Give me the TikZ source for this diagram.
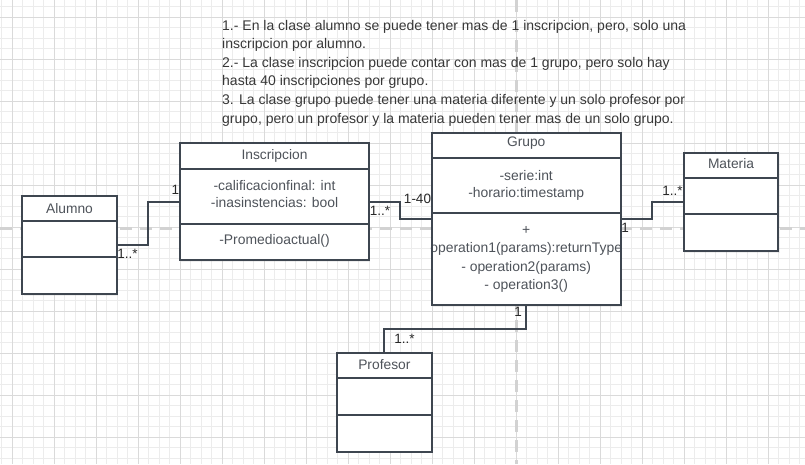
\documentclass[tikz,border=0pt]{standalone}
\usepackage{fontspec}
\setmainfont{Liberation Sans}
\usetikzlibrary{calc,shadows}
\definecolor{minorgrid}{RGB}{236,236,236}
\definecolor{majorgrid}{RGB}{218,218,218}
\definecolor{guide}{RGB}{210,210,210}
\definecolor{border}{RGB}{62,70,80}
\definecolor{boxtext}{RGB}{78,83,90}
\definecolor{notetext}{RGB}{55,55,55}
\definecolor{labeltext}{RGB}{40,40,40}
\tikzset{
  minorline/.style={draw=minorgrid, line width=1pt},
  majorline/.style={draw=majorgrid, line width=1pt},
  guideline/.style={draw=guide, line width=3pt, dash pattern=on 12pt off 8pt},
  classbox/.style={rectangle, fill=white, draw=none, inner sep=0pt, outer sep=0pt,
    drop shadow={opacity=0.12, shadow xshift=1.2pt, shadow yshift=-1.5pt}},
  boxborder/.style={draw=border, line width=2pt},
  divider/.style={draw=border, line width=2pt},
  boxtitle/.style={text=boxtext, inner sep=0pt, font=\fontsize{13.8}{16}\selectfont},
  boxitem/.style={text=boxtext, inner sep=0pt, font=\fontsize{13.9}{16}\selectfont},
  conn/.style={draw=border, line width=2pt},
  mult/.style={text=labeltext, inner sep=0pt, font=\fontsize{13.5}{16}\selectfont},
  noteline/.style={text=notetext, inner sep=0pt, anchor=base west, font=\fontsize{14}{18}\selectfont}
}
\begin{document}
\begin{tikzpicture}[x=1pt,y=-1pt]
\useasboundingbox[fill=white] (0,0) rectangle (805,464);
% grid
\foreach \i in {0,...,76} \draw[minorline] ({1.8+10.5*\i},0) -- ({1.8+10.5*\i},464);
\foreach \i in {0,...,43} \draw[minorline] (0,{6.8+10.5*\i}) -- (805,{6.8+10.5*\i});
\foreach \i in {0,...,19} \draw[majorline] ({12.3+42*\i},0) -- ({12.3+42*\i},464);
\foreach \i in {0,...,10} \draw[majorline] (0,{17.3+42*\i}) -- (805,{17.3+42*\i});
% guides
\coordinate (gl) at (0,228);
\coordinate (gr) at (805,228);
\coordinate (gt) at (516,0);
\coordinate (gb) at (516,464);
\draw[guideline] (gl) -- (gr);
\draw[guideline] (gt) -- (gb);
% note
\node[noteline] (n1) at (222,30) {1.- En la clase alumno se puede tener mas de 1 inscripcion, pero, solo una};
\node[noteline] (n2) at (222,48.6) {inscripcion por alumno.};
\node[noteline] (n3) at (222,67.2) {2.- La clase inscripcion puede contar con mas de 1 grupo, pero solo hay};
\node[noteline] (n4) at (222,85.8) {hasta 40 inscripciones por grupo.};
\node[noteline] (n5) at (222,104.4) {3. La clase grupo puede tener una materia diferente y un solo profesor por};
\node[noteline] (n6) at (222,123) {grupo, pero un profesor y la materia pueden tener mas de un solo grupo.};
% boxes
\node[classbox, minimum width=94.4pt, minimum height=98.3pt] (alumno) at (69.5,244.85) {};
\node[classbox, minimum width=189pt, minimum height=116.7pt] (insc) at (274.5,201.65) {};
\node[classbox, minimum width=189pt, minimum height=172.6pt] (grupo) at (526.2,219) {};
\node[classbox, minimum width=94.6pt, minimum height=98.3pt] (materia) at (731,201.85) {};
\node[classbox, minimum width=94.7pt, minimum height=98.4pt] (profesor) at (384.35,402.5) {};
% texts
\node[boxtitle] (alumnoT) at (69.5,208.2) {Alumno};
\node[boxtitle] (inscT) at (274.5,156) {Inscripcion};
\node[boxitem] (inscA1) at (274.5,185.5) {-calificacionfinal: int};
\node[boxitem] (inscA2) at (274.5,203) {-inasinstencias: bool};
\node[boxitem] (inscM1) at (274.5,241) {-Promedioactual()};
\node[boxtitle] (grupoT) at (526.2,143.5) {Grupo};
\node[boxitem] (grupoA1) at (526.2,176) {-serie:int};
\node[boxitem] (grupoA2) at (526.2,194.3) {-horario:timestamp};
\node[boxitem] (grupoM0) at (526.2,230.5) {+};
\node[boxitem] (grupoM1) at (526.2,249.3) {operation1(params):returnType};
\node[boxitem] (grupoM2) at (526.2,268) {- operation2(params)};
\node[boxitem] (grupoM3) at (526.2,286.3) {- operation3()};
\node[boxtitle] (materiaT) at (731,163.5) {Materia};
\node[boxtitle] (profesorT) at (384.35,364.8) {Profesor};
% borders and dividers
\foreach \n in {alumno,insc,grupo,materia,profesor}
  \draw[boxborder] (\n.north west) rectangle (\n.south east);
\draw[divider] (alumno.west |- 0,220.7) -- (alumno.east |- 0,220.7);
\draw[divider] (alumno.west |- 0,257) -- (alumno.east |- 0,257);
\draw[divider] (insc.west |- 0,168.7) -- (insc.east |- 0,168.7);
\draw[divider] (insc.west |- 0,223.7) -- (insc.east |- 0,223.7);
\draw[divider] (grupo.west |- 0,158.3) -- (grupo.east |- 0,158.3);
\draw[divider] (grupo.west |- 0,213.3) -- (grupo.east |- 0,213.3);
\draw[divider] (materia.west |- 0,177.7) -- (materia.east |- 0,177.7);
\draw[divider] (materia.west |- 0,214.3) -- (materia.east |- 0,214.3);
\draw[divider] (profesor.west |- 0,378.3) -- (profesor.east |- 0,378.3);
\draw[divider] (profesor.west |- 0,415) -- (profesor.east |- 0,415);
% connectors
\draw[conn] (alumno.east) -| ($(alumno.east)!0.5!(insc.west)$) |- (insc.west);
\draw[conn] (insc.east) -| ($(insc.east)!0.5!(grupo.west)$) |- (grupo.west);
\draw[conn] (grupo.east) -| ($(grupo.east)!0.5!(materia.west)$) |- (materia.west);
\draw[conn] (grupo.south) |- ($(grupo.south)!0.5!(profesor.north)$) -| (profesor.north);
% multiplicities
\node[mult] (m1) at (127.5,254) {1..*};
\node[mult] (m2) at (175.5,189.5) {1};
\node[mult] (m3) at (380,210.5) {1..*};
\node[mult] (m4) at (417.5,198.5) {1-40};
\node[mult] (m5) at (625,227.5) {1};
\node[mult] (m6) at (672.5,190.5) {1..*};
\node[mult] (m7) at (518,311.5) {1};
\node[mult] (m8) at (404.5,338.5) {1..*};
\end{tikzpicture}
\end{document}
